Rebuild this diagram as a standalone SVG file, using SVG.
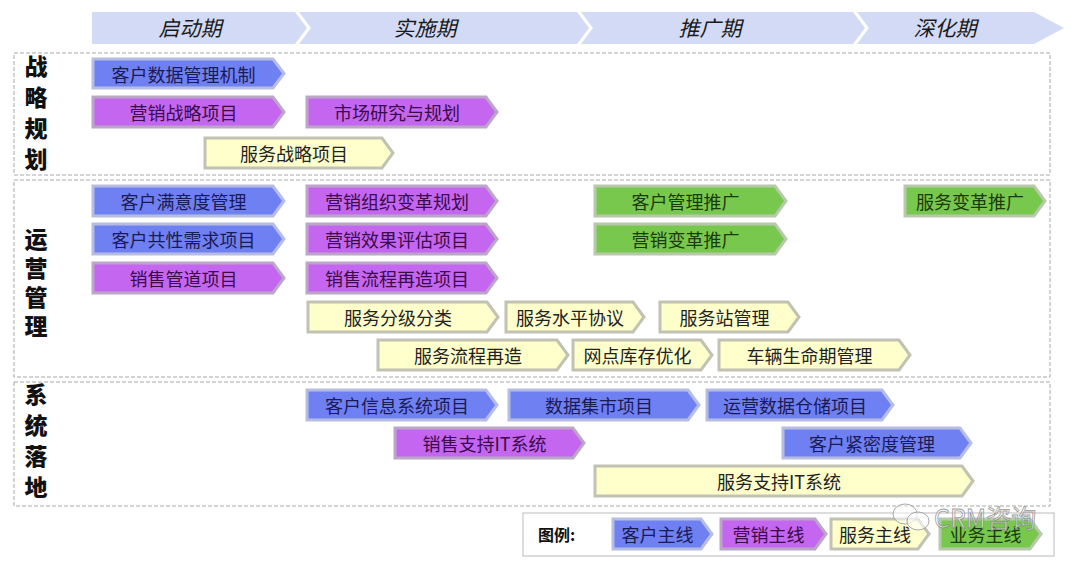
<svg xmlns="http://www.w3.org/2000/svg" width="1080" height="566" viewBox="0 0 1080 566">
<style>
text{font-family:"Noto Sans CJK SC","Liberation Sans",sans-serif;}
.ph{fill:#d3daf6;}
.pht{font-size:21px;font-style:italic;fill:#1a1a1a;text-anchor:middle;}
.sec{fill:none;stroke:#a8a8a8;stroke-width:1;stroke-dasharray:4 2;}
.lab{font-weight:900;fill:#111;writing-mode:vertical-rl;text-anchor:start;}
.cust polygon{fill:#6f80f2;stroke:#b6bde0;stroke-width:3;}
.mkt polygon{fill:#c466f0;stroke:#bca6c8;stroke-width:3;}
.svc polygon{fill:#ffffcc;stroke:#c2c2b4;stroke-width:3;}
.biz polygon{fill:#78c84e;stroke:#b8c8ac;stroke-width:3;}
.n text{font-size:18px;text-anchor:middle;dominant-baseline:central;}
.cust text{fill:#1a1a55;}
.mkt text{fill:#3a0a4a;}
.svc text{fill:#222;}
.biz text{fill:#1a3a0a;}
</style>
<rect width="1080" height="566" fill="#ffffff"/>
<g id="phases">
<polygon class="ph" points="92,12 295,12 307,28 295,44 92,44"/>
<polygon class="ph" points="299,12 577,12 589,28 577,44 299,44 311,28"/>
<polygon class="ph" points="581,12 853,12 865,28 853,44 581,44 593,28"/>
<polygon class="ph" points="857,12 1034,12 1064,28 1034,44 857,44 869,28"/>
<text class="pht" x="190" y="36">启动期</text>
<text class="pht" x="425" y="36">实施期</text>
<text class="pht" x="710" y="36">推广期</text>
<text class="pht" x="945" y="36">深化期</text>
</g>
<g id="sections">
<rect class="sec" x="14" y="53" width="1036" height="122"/>
<rect class="sec" x="14" y="180" width="1036" height="197"/>
<rect class="sec" x="14" y="382" width="1036" height="124"/>
<text class="lab" x="36" y="55" font-size="23" letter-spacing="8">战略规划</text>
<text class="lab" x="36" y="228" font-size="23" letter-spacing="6">运营管理</text>
<text class="lab" x="36" y="383" font-size="23" letter-spacing="8">系统落地</text>
</g>
<g id="connectors"></g>
<g id="n1" class="n cust"><polygon points="93,59 273,59 284,73.5 273,88 93,88"/><text x="183.5" y="73.5">客户数据管理机制</text></g>
<g id="n2" class="n mkt"><polygon points="93,97 273,97 284,112 273,127 93,127"/><text x="183.5" y="112">营销战略项目</text></g>
<g id="n3" class="n mkt"><polygon points="307,97 486,97 497,112 486,127 307,127"/><text x="397" y="112">市场研究与规划</text></g>
<g id="n4" class="n svc"><polygon points="205,138 382,138 393,153 382,168 205,168"/><text x="294" y="153">服务战略项目</text></g>
<g id="n5" class="n cust"><polygon points="93,186 273,186 284,201 273,216 93,216"/><text x="183.5" y="201">客户满意度管理</text></g>
<g id="n6" class="n mkt"><polygon points="307,186 486,186 497,201 486,216 307,216"/><text x="397" y="201">营销组织变革规划</text></g>
<g id="n7" class="n biz"><polygon points="595,186 775,186 786,201 775,216 595,216"/><text x="685.5" y="201">客户管理推广</text></g>
<g id="n8" class="n biz"><polygon points="905,186 1034,186 1045,201 1034,216 905,216"/><text x="970" y="201">服务变革推广</text></g>
<g id="n9" class="n cust"><polygon points="93,224 273,224 284,239 273,254 93,254"/><text x="183.5" y="239">客户共性需求项目</text></g>
<g id="n10" class="n mkt"><polygon points="307,224 486,224 497,239 486,254 307,254"/><text x="397" y="239">营销效果评估项目</text></g>
<g id="n11" class="n biz"><polygon points="595,224 775,224 786,239 775,254 595,254"/><text x="685.5" y="239">营销变革推广</text></g>
<g id="n12" class="n mkt"><polygon points="93,263 273,263 284,278 273,293 93,293"/><text x="183.5" y="278">销售管道项目</text></g>
<g id="n13" class="n mkt"><polygon points="307,263 486,263 497,278 486,293 307,293"/><text x="397" y="278">销售流程再造项目</text></g>
<g id="n14" class="n svc"><polygon points="308,302 487,302 498,317 487,332 308,332"/><text x="398" y="317">服务分级分类</text></g>
<g id="n15" class="n svc"><polygon points="506,302 633,302 644,317 633,332 506,332"/><text x="570" y="317">服务水平协议</text></g>
<g id="n16" class="n svc"><polygon points="660,302 788,302 799,317 788,332 660,332"/><text x="724.5" y="317">服务站管理</text></g>
<g id="n17" class="n svc"><polygon points="378,340 557,340 568,355 557,370 378,370"/><text x="468" y="355">服务流程再造</text></g>
<g id="n18" class="n svc"><polygon points="573,340 701,340 712,355 701,370 573,370"/><text x="637.5" y="355">网点库存优化</text></g>
<g id="n19" class="n svc"><polygon points="719,340 899,340 910,355 899,370 719,370"/><text x="809.5" y="355">车辆生命期管理</text></g>
<g id="n20" class="n cust"><polygon points="307,390 486,390 497,405 486,420 307,420"/><text x="397" y="405">客户信息系统项目</text></g>
<g id="n21" class="n cust"><polygon points="509,390 688,390 699,405 688,420 509,420"/><text x="599" y="405">数据集市项目</text></g>
<g id="n22" class="n cust"><polygon points="707,390 882,390 893,405 882,420 707,420"/><text x="795" y="405">运营数据仓储项目</text></g>
<g id="n23" class="n mkt"><polygon points="395,428 573,428 584,443 573,458 395,458"/><text x="484.5" y="443">销售支持IT系统</text></g>
<g id="n24" class="n cust"><polygon points="783,428 960,428 971,443 960,458 783,458"/><text x="872" y="443">客户紧密度管理</text></g>
<g id="n25" class="n svc"><polygon points="595,466 962,466 973,481 962,496 595,496"/><text x="779" y="481">服务支持IT系统</text></g>
<g id="legend">
<rect x="523" y="513" width="531" height="43" fill="#ffffff" stroke="#bbbbbb" stroke-width="1"/>
<text x="538" y="541" font-size="16" font-weight="bold" fill="#111">图例:</text>
<g id="l1" class="n cust"><polygon points="613,519 701,519 712,534 701,549 613,549"/><text x="657.5" y="534">客户主线</text></g>
<g id="l2" class="n mkt"><polygon points="721,519 815,519 826,534 815,549 721,549"/><text x="768.5" y="534">营销主线</text></g>
<g id="l3" class="n svc"><polygon points="831,519 918,519 929,534 918,549 831,549"/><text x="875" y="534">服务主线</text></g>
<g id="l4" class="n biz"><polygon points="940,519 1030,519 1041,534 1030,549 940,549"/><text x="985.5" y="534">业务主线</text></g>
</g>
<g id="watermark" opacity="0.85">
<ellipse cx="905" cy="514" rx="12" ry="10" fill="#ffffff" fill-opacity="0.6" stroke="#9a9a9a" stroke-width="1"/>
<ellipse cx="918" cy="521" rx="11" ry="9" fill="#ffffff" fill-opacity="0.7" stroke="#9a9a9a" stroke-width="1"/>
<text x="934" y="528" font-size="25" fill="#ffffff" fill-opacity="0.6" stroke="#8a8a8a" stroke-width="0.8" font-family="Liberation Sans, Noto Sans CJK SC, sans-serif">CRM咨询</text>
</g>
</svg>
